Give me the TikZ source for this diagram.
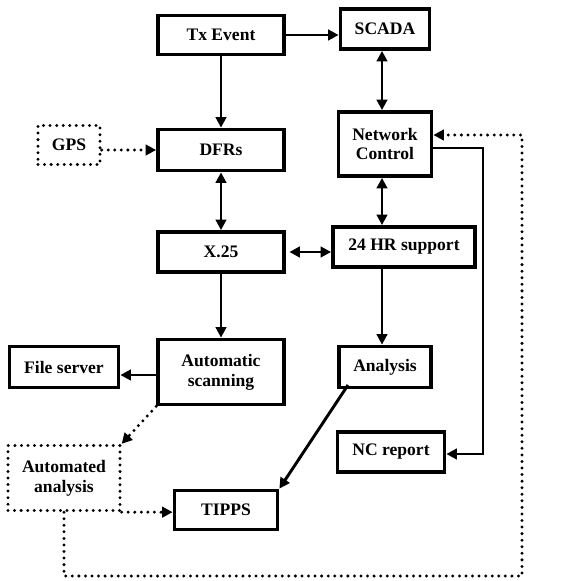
\documentclass[tikz,border=0pt]{standalone}
\usepackage{fontspec}
\setmainfont{Liberation Serif}
\usetikzlibrary{arrows.meta}
\tikzset{
  blk/.style={draw, line width=3.2pt, inner sep=0pt, align=center, font=\bfseries\fontsize{15}{17}\selectfont},
  dotblk/.style={blk, dash pattern=on 0pt off 5.6pt, line cap=round, line width=2.8pt},
  ln/.style={line width=2.5pt},
  ar/.style={ln, -{Triangle[length=9pt,width=9pt]}},
  bar/.style={ln, {Triangle[length=9pt,width=9pt]}-{Triangle[length=9pt,width=9pt]}},
  dots/.style={line width=2.8pt, dash pattern=on 0pt off 5.6pt, line cap=round},
  dar/.style={dots, -{Triangle[length=9pt,width=9pt,sharp]}}
}
\begin{document}
\begin{tikzpicture}[x=0.03cm, y=-0.03cm]
    \useasboundingbox (0,0) rectangle (569,581);
    % boxes
    \node[blk, minimum width=3.78cm, minimum height=1.17cm] (tx) at (221,35) {Tx Event};
    \node[blk, minimum width=2.67cm, minimum height=1.2cm] (scada) at (385,29) {SCADA};
    \node[dotblk, minimum width=1.86cm, minimum height=1.17cm] (gps) at (69,145) {GPS};
    \node[blk, minimum width=3.78cm, minimum height=1.23cm] (dfr) at (221,150) {DFRs};
    \node[blk, minimum width=2.79cm, minimum height=1.92cm] (nc) at (385,144) {Network\\Control};
    \node[blk, minimum width=3.78cm, minimum height=1.2cm] (x25) at (221,252) {X.25};
    \node[blk, minimum width=4.26cm, minimum height=1.2cm] (hr) at (404,247) {24 HR support};
    \node[blk, minimum width=3.78cm, minimum height=1.95cm] (scan) at (221,372) {Automatic\\scanning};
    \node[blk, minimum width=3.27cm, minimum height=1.23cm] (fs) at (64,367) {File server};
    \node[blk, minimum width=2.76cm, minimum height=1.23cm] (ana) at (385,367) {Analysis};
    \node[blk, minimum width=3.21cm, minimum height=1.2cm] (ncr) at (391,452) {NC report};
    \node[dotblk, minimum width=3.36cm, minimum height=1.95cm] (aa) at (64,478) {Automated\\analysis};
    \node[blk, minimum width=3.09cm, minimum height=1.17cm] (tipps) at (226,510) {TIPPS};

    % solid connectors
    \draw[ar] (tx.east) -- (tx.east -| scada.west);
    \draw[ar] (tx) -- (dfr);
    \draw[bar] (scada.south -| 382,0) -- (nc.north -| 382,0);
    \draw[bar] (dfr) -- (x25);
    \draw[bar] (nc.south -| 382,0) -- (hr.north -| 382,0);
    \draw[bar, shorten <=3pt] (x25.east) -- (x25.east -| hr.west);
    \draw[ar] (x25) -- (scan);
    \draw[ar] (hr.south -| 382,0) -- (ana.north -| 382,0);
    \draw[ar] (scan.west |- 0,375) -- (fs.east |- 0,375);
    \coordinate (ncr1) at (483,148);
    \coordinate (ncr2) at (483,454);
    \draw[ar] (nc.east |- ncr1) -- (ncr1) -- (ncr2) -- (ncr.east |- ncr2);
    \draw[ar] (348,385) -- (tipps.north east);

    % dotted connectors
    \draw[dar] (gps.east |- dfr) -- (dfr.west);
    \draw[dar] (scan.south west) -- (aa.north east);
    \draw[dar] (aa.south east) -- (tipps.west |- aa.south east);
    \coordinate (lp1) at (64,576);
    \coordinate (lp2) at (522,576);
    \coordinate (lp3) at (522,135);
    \draw[dar] (aa.south) -- (lp1) -- (lp2) -- (lp3) -- (nc.east |- lp3);
\end{tikzpicture}
\end{document}
